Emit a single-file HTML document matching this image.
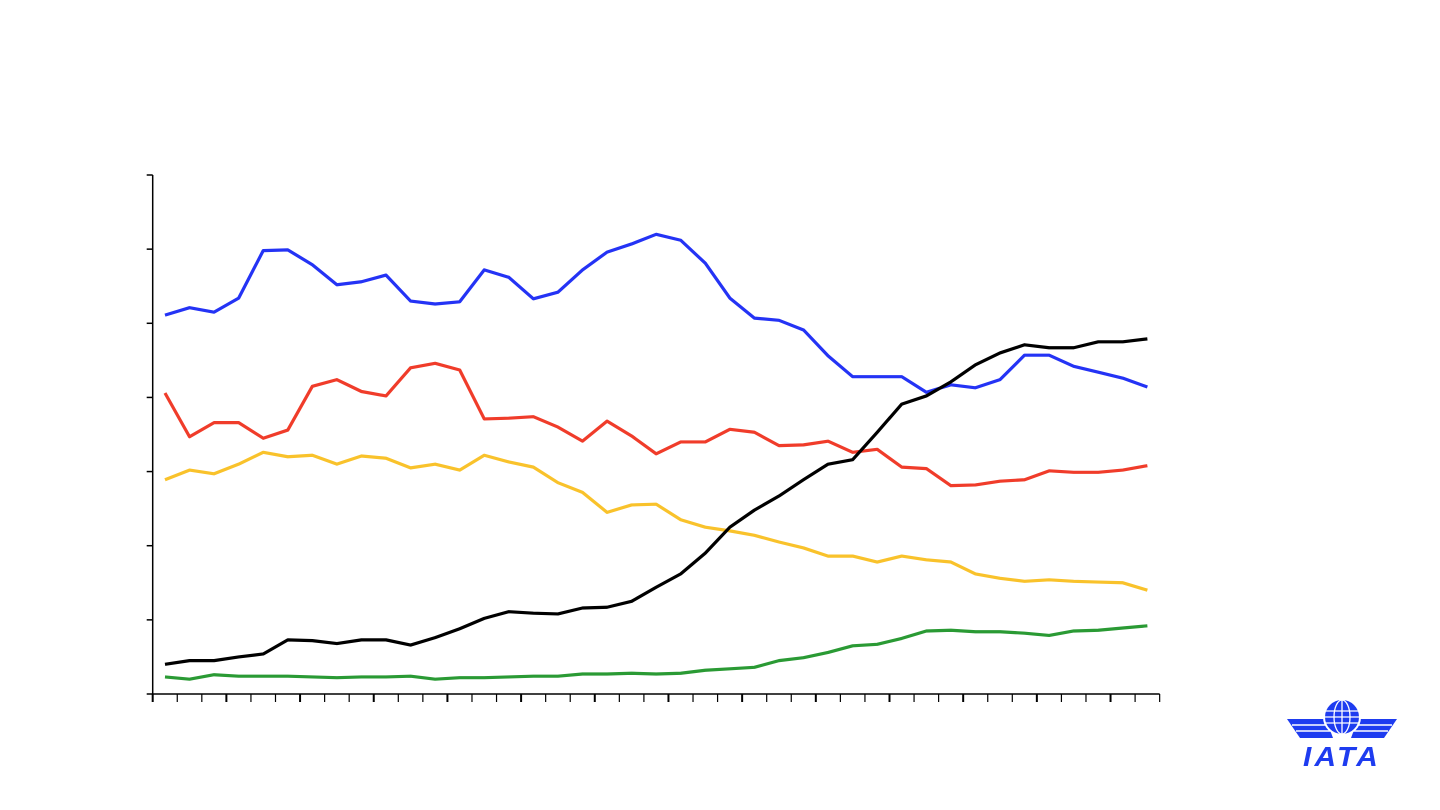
<!DOCTYPE html>
<html><head><meta charset="utf-8"><style>
html,body{margin:0;padding:0;background:#fff;width:1440px;height:810px;overflow:hidden}
svg{display:block}
</style></head><body>
<svg id="chart" width="1440" height="810">
<g id="axes"></g>
<g id="series"></g>
<g>
  <path d="M1287 719 L1326 719 L1333 738 L1300 738 Z M1397 719 L1358 719 L1351 738 L1384 738 Z" fill="#1e3cf0"/>
  <path d="M1292 725 H1328 M1296 731 H1330 M1392 725 H1356 M1388 731 H1354" stroke="#fff" stroke-width="1.5"/>
  <circle cx="1342" cy="717" r="18" fill="#1e3cf0" stroke="#fff" stroke-width="2"/>
  <ellipse cx="1342" cy="717" rx="8" ry="17" fill="none" stroke="#fff" stroke-width="1.3"/>
  <path d="M1342 700 V734 M1325 711 H1359 M1324 717 H1360 M1325 723 H1359" stroke="#fff" stroke-width="1.3"/>
  <text x="1342" y="766" text-anchor="middle" font-family="Liberation Sans, sans-serif" font-weight="bold" font-style="italic" font-size="28" letter-spacing="3" textLength="78" lengthAdjust="spacingAndGlyphs" fill="#1e3cf0">IATA</text>
</g>
</svg>
<script>
const blue=[51.1,52.1,51.5,53.4,59.8,59.9,57.9,55.2,55.6,56.5,53.0,52.6,52.9,57.2,56.2,53.3,54.2,57.2,59.6,60.7,62.0,61.2,58.1,53.4,50.7,50.4,49.1,45.6,42.8,42.8,42.8,40.7,41.7,41.3,42.4,45.7,45.7,44.2,43.4,42.6,41.4];
const red=[40.6,34.7,36.6,36.6,34.5,35.6,41.5,42.4,40.8,40.2,44.0,44.6,43.7,37.1,37.2,37.4,36.0,34.1,36.8,34.8,32.4,34.0,34.0,35.7,35.3,33.5,33.6,34.1,32.6,33.0,30.6,30.4,28.1,28.2,28.7,28.9,30.1,29.9,29.9,30.2,30.8];
const yellow=[28.9,30.2,29.7,31.0,32.6,32.0,32.2,31.0,32.1,31.8,30.5,31.0,30.2,32.2,31.3,30.6,28.5,27.2,24.5,25.5,25.6,23.5,22.5,22.0,21.4,20.5,19.7,18.6,18.6,17.8,18.6,18.1,17.8,16.2,15.6,15.2,15.4,15.2,15.1,15.0,14.0];
const black=[4.0,4.5,4.5,5.0,5.4,7.3,7.2,6.8,7.3,7.3,6.6,7.6,8.8,10.2,11.1,10.9,10.8,11.6,11.7,12.5,14.4,16.2,19.0,22.5,24.8,26.7,28.9,31.0,31.6,35.3,39.1,40.2,42.1,44.4,46.0,47.1,46.7,46.7,47.5,47.5,47.9];
const green=[2.3,2.0,2.6,2.4,2.4,2.4,2.3,2.2,2.3,2.3,2.4,2.0,2.2,2.2,2.3,2.4,2.4,2.7,2.7,2.8,2.7,2.8,3.2,3.4,3.6,4.5,4.9,5.6,6.5,6.7,7.5,8.5,8.6,8.4,8.4,8.2,7.9,8.5,8.6,8.9,9.2];
const yTicks=[0,10,20,30,40,50,60,70];
const NS="http://www.w3.org/2000/svg";
const X0=152.7,STEP=24.56,Y0=694,YMAX=70,YTOP=175;
function xPos(i){return X0+STEP*(i+0.5);}
function yPos(v){return Y0-(v/YMAX)*(Y0-YTOP);}
const axes=document.getElementById('axes');
function line(x1,y1,x2,y2,w){const l=document.createElementNS(NS,'line');l.setAttribute('x1',x1);l.setAttribute('y1',y1);l.setAttribute('x2',x2);l.setAttribute('y2',y2);l.setAttribute('stroke','#000');l.setAttribute('stroke-width',w);axes.appendChild(l);return l;}
let a=line(X0,YTOP,X0,Y0,1.5);


a=line(X0,Y0,X0+STEP*blue.length,Y0,1.5);


yTicks.forEach(v=>{const t=line(X0-6,yPos(v),X0,yPos(v),1.5);

});
for(let k=0;k<=blue.length;k++){const t=line(X0+STEP*k,Y0,X0+STEP*k,Y0+8,k%3===0?2:1.2);

}
const ser=document.getElementById('series');
[[blue,'#2433f5','blue-series-line'],[red,'#f03c2a','red-series-line'],[yellow,'#f9c22b','yellow-series-line'],[black,'#000000','black-series-line'],[green,'#2a9a34','green-series-line']].forEach(([d,c,n])=>{
 const p=document.createElementNS(NS,'polyline');
 p.setAttribute('points',d.map((v,i)=>xPos(i)+','+yPos(v)).join(' '));
 p.setAttribute('fill','none');p.setAttribute('stroke',c);p.setAttribute('stroke-width','3.2');p.setAttribute('stroke-linejoin','round');
 
 
 ser.appendChild(p);
});
</script>
</body></html>
